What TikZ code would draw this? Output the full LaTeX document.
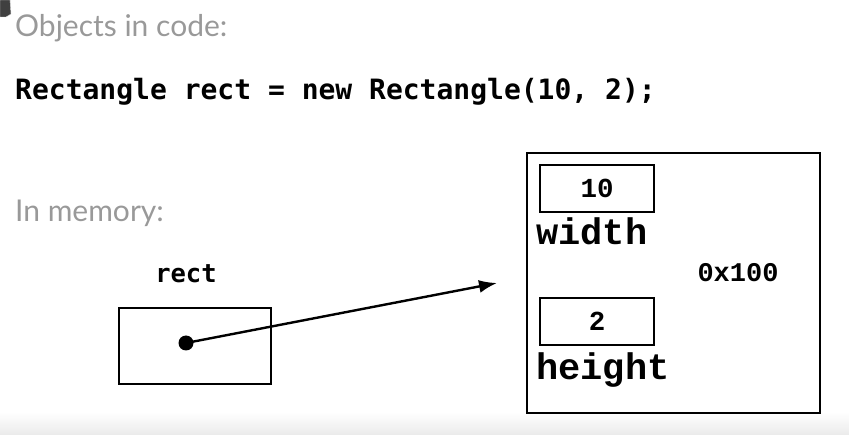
\documentclass[tikz,border=0pt]{standalone}
\usepackage{fontspec}
\usepackage{tikz}
\usetikzlibrary{positioning}
\usetikzlibrary{arrows.meta}
\newfontfamily\headfont{Lato}
\newfontfamily\codefont{DejaVu Sans Mono}
\newfontfamily\memfont{Liberation Mono}
\definecolor{Headgray}{rgb}{0.6, 0.6, 0.6}

\begin{document}
\begin{tikzpicture}[x=1pt, y=-1pt, >={Latex[length=18pt, width=13pt]},
    box/.style={draw, line width=2.6pt, inner sep=0pt},
    head/.style={anchor=base west, inner sep=0pt, text=Headgray, font=\headfont\fontsize{30}{32}\selectfont}]
      \useasboundingbox (0,0) rectangle (849,435);
      \shade[top color=white, bottom color=black!8] (0,412) rectangle (849,435);
      \fill[black!75, draw=black!15] (0,0) -- (10,0) -- (11,14) -- (6,17) -- (0,17) -- cycle;
      
      \node[head] at (15,37) (objcode) {Objects in code:};
      \node[anchor=base west, inner sep=0pt, font=\codefont\bfseries\fontsize{28}{30}\selectfont] at (15,100) (code) {Rectangle rect = new Rectangle(10, 2);};
      \node[head] at (15,222) (inmem) {In memory:};
      
      % the variable
      \node[box, minimum width=152pt, minimum height=76pt] at (195,346) (ptr) {};
      \node[anchor=base, inner sep=0pt, font=\codefont\bfseries\fontsize{25.5}{28}\selectfont] at (186,283) (rectlbl) {rect};
      \node[circle, fill, inner sep=0pt, minimum size=15pt] at (186,343) (dot) {};
      \coordinate (tip) at (497,283);
      
      % the object
      \node[box, minimum width=293pt, minimum height=260pt] at (673.5,283) (obj) {};
      \node[box, minimum width=114pt, minimum height=47pt, font=\memfont\bfseries\fontsize{27.5}{30}\selectfont] at (597,188.5) (wval) {10};
      \node[box, minimum width=114pt, minimum height=47pt, font=\memfont\bfseries\fontsize{27.5}{30}\selectfont] at (597,321.5) (hval) {2};
      \node[anchor=base west, inner sep=0pt, font=\memfont\bfseries\fontsize{37}{40}\selectfont] at (536,245) (wlbl) {width};
      \node[anchor=base west, inner sep=0pt, font=\memfont\bfseries\fontsize{37}{40}\selectfont] at (536,380) (hlbl) {height};
      \node[font=\memfont\bfseries\fontsize{27}{30}\selectfont] at (738,273) (addr) {0x100};
      
      \draw[line width=2.4pt, ->] (dot.center) -- (tip);
    \end{tikzpicture}
\end{document}
